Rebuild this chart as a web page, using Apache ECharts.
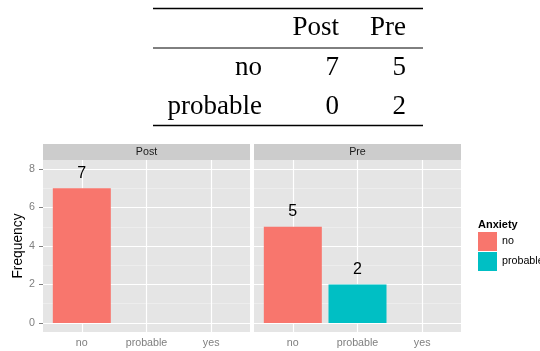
<!DOCTYPE html>
<html>
<head>
<meta charset="utf-8">
<script src="https://cdn.jsdelivr.net/npm/echarts@6/dist/echarts.min.js"></script>
<style>
html,body{margin:0;padding:0;background:#fff;}
#chart{width:540px;height:351px;}
</style>
</head>
<body>
<div id="chart"></div>
<script>
// ---- data ----
const panels = ['Post', 'Pre'];
const categories = ['no', 'probable', 'yes'];
const anxietyLevels = ['no', 'probable'];
const noCounts = [7, 5];        // per panel
const probableCounts = [0, 2];  // per panel
const yTicks = [0, 2, 4, 6, 8];
const yMinorTicks = [1, 3, 5, 7];
const legendTitle = 'Anxiety';
const yTitle = 'Frequency';

// ---- layout / style ----
const colors = {no: '#F8766D', probable: '#00BFC4'};
const countsBy = {no: noCounts, probable: probableCounts};
const SANS = 'Liberation Sans, Arial, sans-serif';
const SERIF = 'Liberation Serif, Times New Roman, serif';
const PANEL_TOP = 160, PANEL_H = 172, PANEL_W = 207, STRIP_H = 16;
const PANEL_LEFT = [43, 254];

const chart = echarts.init(document.getElementById('chart'), null, {renderer: 'canvas'});

const grids = [], xAxes = [], yAxes = [], series = [], graphics = [];

panels.forEach((p, i) => {
  grids.push({left: PANEL_LEFT[i], top: PANEL_TOP, width: PANEL_W, height: PANEL_H,
    show: true, backgroundColor: '#E5E5E5', borderWidth: 0, containLabel: false});
  xAxes.push({type: 'value', gridIndex: i, min: 0.4, max: 3.6,
    splitLine: {show: false}, axisLine: {show: false},
    axisTick: {show: true, customValues: [1, 2, 3], length: 4, lineStyle: {color: '#7F7F7F', width: 1}},
    axisLabel: {customValues: [1, 2, 3], formatter: v => categories[Math.round(v) - 1] || '',
      color: '#7F7F7F', fontSize: 10.7, fontFamily: SANS, margin: 6}});
  yAxes.push({type: 'value', gridIndex: i, min: -0.47, max: 8.47,
    splitLine: {show: false}, axisLine: {show: false},
    name: i === 0 ? yTitle : '', nameLocation: 'middle', nameGap: 15,
    nameTextStyle: {color: '#000', fontSize: 13.8, fontFamily: SANS},
    axisTick: {show: i === 0, customValues: yTicks, length: 4, lineStyle: {color: '#7F7F7F', width: 1}},
    axisLabel: {show: i === 0, customValues: yTicks, color: '#7F7F7F', fontSize: 10.7, fontFamily: SANS, margin: 8}});

  const gridLines = [];
  yTicks.forEach(v => gridLines.push({yAxis: v, lineStyle: {color: '#FFFFFF', width: 1.2, type: 'solid'}}));
  yMinorTicks.forEach(v => gridLines.push({yAxis: v, lineStyle: {color: '#F2F2F2', width: 0.6, type: 'solid'}}));
  [1, 2, 3].forEach(v => gridLines.push({xAxis: v, lineStyle: {color: '#FFFFFF', width: 1.2, type: 'solid'}}));

  anxietyLevels.forEach((lvl, k) => {
    const c = countsBy[lvl][i];
    const xPos = categories.indexOf(lvl) + 1;
    const s = {
      type: 'bar', name: lvl, xAxisIndex: i, yAxisIndex: i,
      data: c > 0 ? [[xPos, c]] : [],
      barWidth: 58, barGap: '-100%',
      itemStyle: {color: colors[lvl]},
      label: {show: true, position: 'top', distance: 7, color: '#000', fontSize: 16, fontFamily: SANS},
      emphasis: {disabled: true}, z: 3
    };
    if (k === 0) {
      s.markLine = {silent: true, symbol: 'none', z: 1, animation: false,
        label: {show: false}, data: gridLines};
    }
    series.push(s);
  });

  // strip
  graphics.push({type: 'rect', shape: {x: PANEL_LEFT[i], y: PANEL_TOP - STRIP_H, width: PANEL_W, height: STRIP_H},
    style: {fill: '#CCCCCC'}, silent: true});
  graphics.push({type: 'text', x: PANEL_LEFT[i] + PANEL_W / 2, y: PANEL_TOP - STRIP_H / 2,
    style: {text: p, fill: '#1A1A1A', font: '10.7px ' + SANS, textAlign: 'center', textVerticalAlign: 'middle'}, silent: true});
});

// legend title
graphics.push({type: 'text', x: 478, y: 225,
  style: {text: legendTitle, fill: '#000', font: 'bold 11px ' + SANS, textAlign: 'left', textVerticalAlign: 'middle'}, silent: true});

// ---- table ----
const TABLE_X0 = 153, TABLE_X1 = 423;
const colRight = [262, 339, 406];
const rowY = [28, 68, 106.5];
const rules = [[8.5, 1.6], [48, 1], [125.5, 1.6]];
rules.forEach(([y, w]) => graphics.push({type: 'line', shape: {x1: TABLE_X0, y1: y, x2: TABLE_X1, y2: y},
  style: {stroke: '#000', lineWidth: w}, silent: true}));
const tableFont = '27px ' + SERIF;
panels.forEach((p, j) => graphics.push({type: 'text', x: colRight[j + 1], y: rowY[0],
  style: {text: p, fill: '#000', font: tableFont, textAlign: 'right', textVerticalAlign: 'middle'}, silent: true}));
anxietyLevels.forEach((lvl, r) => {
  graphics.push({type: 'text', x: colRight[0], y: rowY[r + 1],
    style: {text: lvl, fill: '#000', font: tableFont, textAlign: 'right', textVerticalAlign: 'middle'}, silent: true});
  panels.forEach((p, j) => graphics.push({type: 'text', x: colRight[j + 1], y: rowY[r + 1],
    style: {text: String(countsBy[lvl][j]), fill: '#000', font: tableFont, textAlign: 'right', textVerticalAlign: 'middle'}, silent: true}));
});

chart.setOption({
  animation: false,
  backgroundColor: '#FFFFFF',
  grid: grids, xAxis: xAxes, yAxis: yAxes, series: series,
  legend: {data: anxietyLevels, orient: 'vertical', left: 478, top: 232, padding: 0,
    icon: 'rect', itemWidth: 19, itemHeight: 19, itemGap: 1, itemTextGap: 3,
    selectedMode: false,
    textStyle: {color: '#000', fontSize: 10.7, fontFamily: SANS, overflow: 'none'}},
  graphic: graphics
});
</script>
</body>
</html>
